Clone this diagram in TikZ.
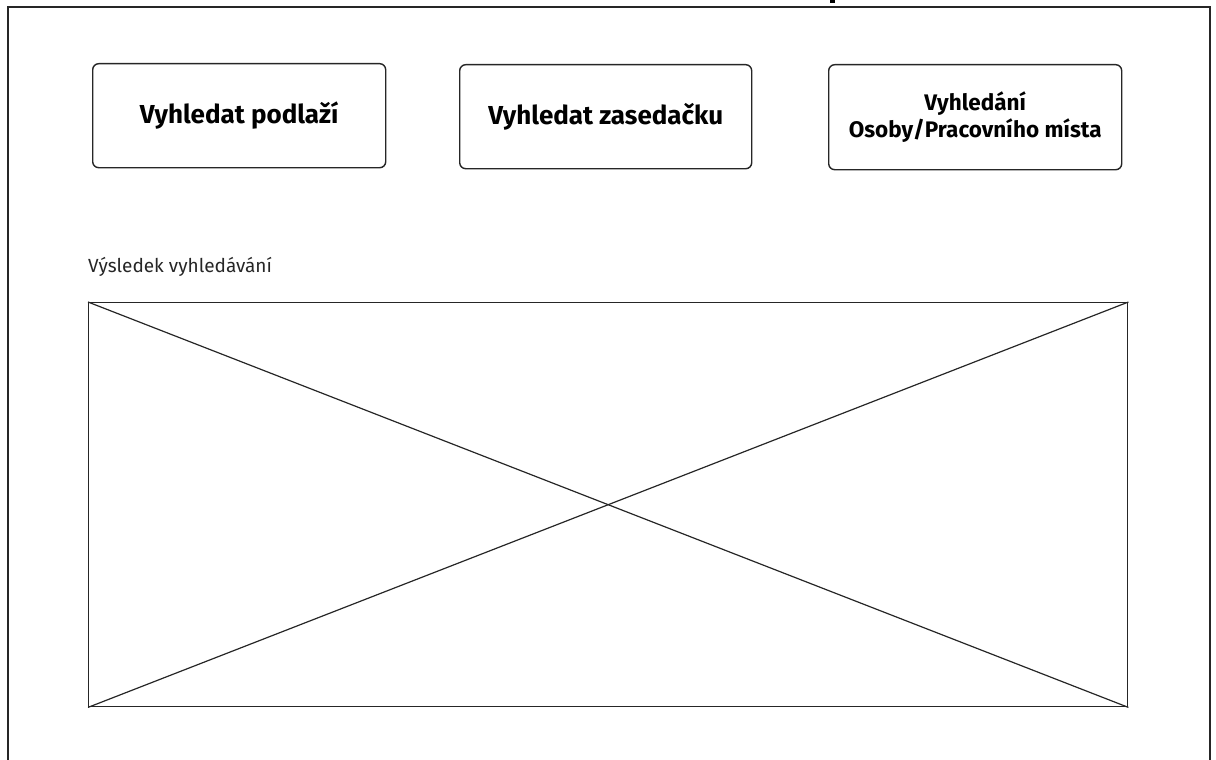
\documentclass[tikz,border=0pt]{standalone}
\usepackage{fontspec}
\setmainfont{Fira Sans}
\begin{document}
\begin{tikzpicture}[x=1pt,y=-1pt,
  line/.style={draw=black!85,line width=1.4pt},
  btn/.style={line,rounded corners=6pt,anchor=north west,inner sep=0pt},
  btntext/.style={font=\fontsize{26}{30}\selectfont\bfseries,align=center},
  btntext2/.style={font=\fontsize{22.5}{27}\selectfont\bfseries,align=center}]
\useasboundingbox (0,0) rectangle (1216,760);
\clip (0,0) rectangle (1216,760);
% outer frame
\draw[line] (8,7) rectangle (1210,780);
% cut-off title remnant
\fill[black] (830,0) rectangle (835,3.5);
% buttons
\node[btn,minimum width=293pt,minimum height=104pt] (b1) at (92,63) {};
\node[btntext] at (b1.center) {Vyhledat podlaží};
\node[btn,minimum width=292pt,minimum height=104pt] (b2) at (459,64) {};
\node[btntext] at (b2.center) {Vyhledat zasedačku};
\node[btn,minimum width=293pt,minimum height=105pt] (b3) at (828,64) {};
\node[btntext2] at (b3.center) {Vyhledání\\Osoby/Pracovního místa};
% label
\node[anchor=west,font=\fontsize{19}{22}\selectfont,text=black!85,inner sep=0pt] (lbl) at (88,267) {Výsledek vyhledávání};
% result placeholder
\node[line,anchor=north west,minimum width=1039pt,minimum height=404pt,inner sep=0pt] (res) at (88,302) {};
\draw[line,line width=1.2pt] (res.north west) -- (res.south east);
\draw[line,line width=1.2pt] (res.south west) -- (res.north east);
\end{tikzpicture}
\end{document}
